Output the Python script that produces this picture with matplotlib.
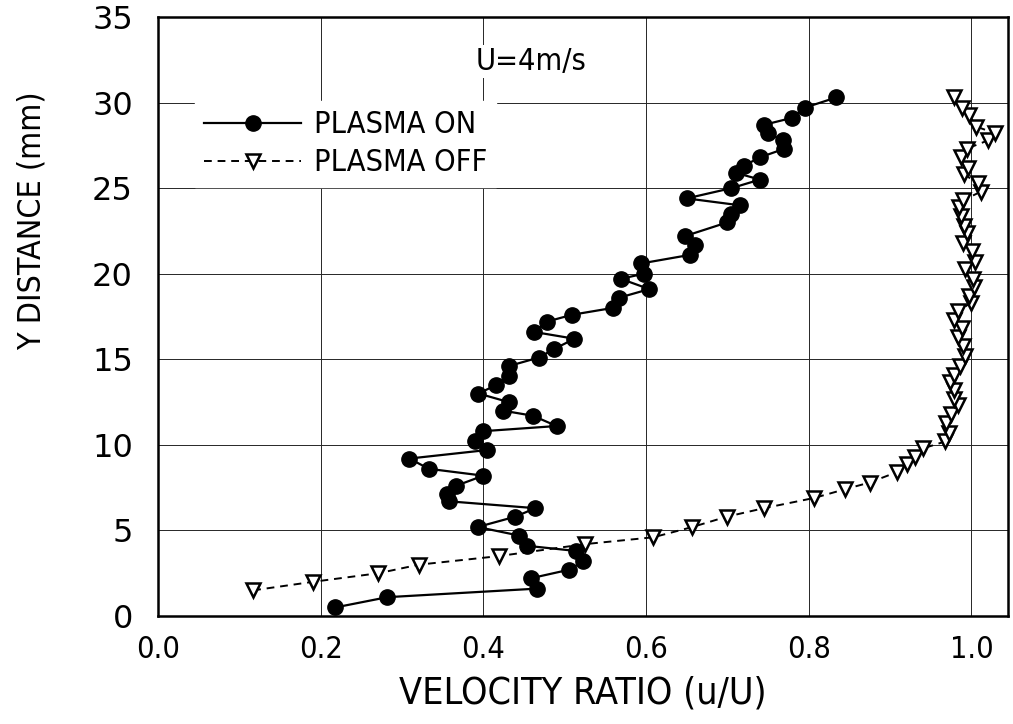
import matplotlib
matplotlib.use("Agg")
import matplotlib.pyplot as plt

# plasma on: y distance (mm) and velocity ratio u/U
y_on = [0.5, 1.1, 1.6, 2.2, 2.7, 3.2, 3.8, 4.1, 4.7, 5.2, 5.8, 6.3, 6.7, 7.1,
        7.6, 8.2, 8.6, 9.2, 9.7, 10.2, 10.8, 11.1, 11.7, 12.0, 12.5, 13.0,
        13.5, 14.0, 14.6, 15.1, 15.6, 16.2, 16.6, 17.2, 17.6, 18.0, 18.6,
        19.1, 19.7, 20.0, 20.6, 21.1, 21.7, 22.2, 23.0, 23.5, 24.0, 24.4,
        25.0, 25.5, 25.9, 26.3, 26.8, 27.3, 27.8, 28.2, 28.7, 29.1, 29.7, 30.3]
u_on = [0.218, 0.282, 0.466, 0.458, 0.505, 0.523, 0.514, 0.454, 0.444, 0.393,
        0.439, 0.464, 0.358, 0.355, 0.366, 0.400, 0.333, 0.309, 0.405, 0.390,
        0.400, 0.490, 0.461, 0.424, 0.431, 0.394, 0.416, 0.432, 0.431, 0.468,
        0.487, 0.512, 0.462, 0.478, 0.509, 0.559, 0.567, 0.604, 0.569, 0.597,
        0.594, 0.654, 0.660, 0.648, 0.700, 0.705, 0.715, 0.650, 0.705, 0.740,
        0.710, 0.720, 0.740, 0.770, 0.768, 0.750, 0.745, 0.779, 0.795, 0.834]

# plasma off
y_off = [1.5, 2.0, 2.5, 3.0, 3.5, 4.2, 4.6, 5.2, 5.8, 6.3, 6.9, 7.4, 7.8, 8.4,
         8.9, 9.3, 9.8, 10.2, 10.7, 11.3, 11.8, 12.3, 12.7, 13.2, 13.7, 14.1,
         14.6, 15.2, 15.8, 16.3, 16.8, 17.3, 17.8, 18.3, 18.7, 19.2, 19.7,
         20.3, 20.7, 21.3, 21.8, 22.4, 22.8, 23.4, 23.9, 24.3, 24.8, 25.3,
         25.8, 26.2, 26.8, 27.3, 27.8, 28.2, 28.6, 29.3, 29.7, 30.3]
u_off = [0.117, 0.191, 0.271, 0.321, 0.419, 0.525, 0.609, 0.657, 0.699, 0.745,
         0.807, 0.844, 0.875, 0.908, 0.921, 0.931, 0.941, 0.968, 0.973, 0.969,
         0.975, 0.984, 0.978, 0.979, 0.974, 0.979, 0.986, 0.992, 0.990, 0.984,
         0.988, 0.979, 0.984, 0.999, 0.997, 1.003, 1.002, 0.992, 1.004, 1.001,
         0.990, 0.994, 0.991, 0.987, 0.985, 0.990, 1.012, 1.008, 0.991, 0.996,
         0.987, 0.994, 1.021, 1.029, 1.006, 0.997, 0.988, 0.979]

x_ticks = [0.0, 0.2, 0.4, 0.6, 0.8, 1.0]
y_ticks = [0, 5, 10, 15, 20, 25, 30, 35]

cond = dict(family='DejaVu Sans', stretch='condensed')

fig = plt.figure(figsize=(10.13, 7.24), dpi=100)
ax = fig.add_axes([158 / 1013, 1 - 616 / 724, 850 / 1013, 599 / 724])

ax.plot(u_off, y_off, linestyle='--', color='black', linewidth=1.4,
        marker='v', markersize=10, markerfacecolor='white',
        markeredgecolor='black', markeredgewidth=1.8, label='PLASMA OFF',
        dashes=(4, 3))
ax.plot(u_on, y_on, linestyle='-', color='black', linewidth=1.6,
        marker='o', markersize=11, markerfacecolor='black',
        markeredgecolor='black', label='PLASMA ON')

ax.set_xlim(0, 1.045)
ax.set_ylim(0, 35)
ax.set_xticks(x_ticks)
ax.set_yticks(y_ticks)
ax.set_xticklabels(['%.1f' % v for v in x_ticks], fontsize=22, **cond)
ax.set_yticklabels([str(v) for v in y_ticks], family='DejaVu Sans', fontsize=23)
ax.tick_params(axis='x', length=0, pad=14)
ax.tick_params(axis='y', length=0, pad=18)
ax.grid(True, color='0.15', linewidth=0.7)
ax.set_axisbelow(True)
for s in ax.spines.values():
    s.set_linewidth(1.8)

ax.set_xlabel('VELOCITY RATIO (u/U)', fontsize=27, labelpad=8, **cond)
ax.set_ylabel('Y DISTANCE (mm)', fontsize=23, **cond)
ax.yaxis.set_label_coords(-0.13, 0.66)

handles, labels = ax.get_legend_handles_labels()
leg = ax.legend(handles[::-1], labels[::-1], loc='upper left',
                bbox_to_anchor=(0.025, 0.885), frameon=True, fancybox=False,
                edgecolor='white', facecolor='white', framealpha=1,
                prop=dict(size=22, **cond), handlelength=3.2,
                handletextpad=0.4, labelspacing=0.3, borderpad=0.3,
                numpoints=1)

ax.text(0.39, 32.4, 'U=4m/s', fontsize=22, ha='left', va='center',
        bbox=dict(facecolor='white', edgecolor='none', pad=1), **cond)

fig.savefig('out.png', dpi=100)
